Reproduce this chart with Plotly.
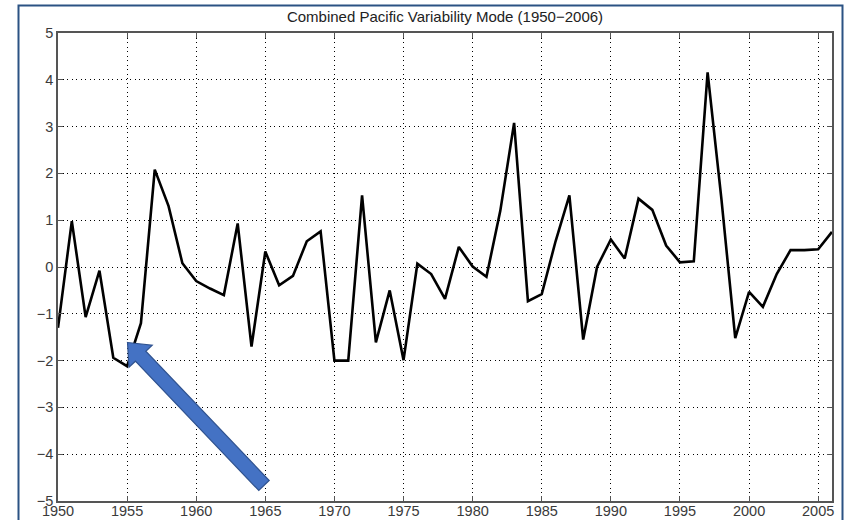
import plotly.graph_objects as go

years = list(range(1950, 2007))
cpvm = [-1.30, 0.98, -1.07, -0.08, -1.94, -2.12, -1.20, 2.08, 1.30, 0.08,
        -0.30, -0.46, -0.60, 0.93, -1.70, 0.33, -0.39, -0.19, 0.55, 0.76,
        -2.00, -2.00, 1.53, -1.61, -0.50, -1.99, 0.07, -0.15, -0.68, 0.43,
        0.01, -0.21, 1.20, 3.08, -0.73, -0.58, 0.55, 1.53, -1.55, 0.00,
        0.59, 0.18, 1.46, 1.22, 0.46, 0.10, 0.12, 4.16, 1.45, -1.52,
        -0.53, -0.85, -0.15, 0.36, 0.36, 0.38, 0.75]
x_ticks = [1950, 1955, 1960, 1965, 1970, 1975, 1980, 1985, 1990, 1995, 2000, 2005]
y_ticks = [5, 4, 3, 2, 1, 0, -1, -2, -3, -4, -5]
title_text = "Combined Pacific Variability Mode (1950\u22122006)"

W, H = 846, 520
ML, MR, MT, MB = 58, 14, 33, 19
PW, PH = W - ML - MR, H - MT - MB
XR = [1950, 2006]
YR = [-5, 5]


def px2data(px, py):
    return (XR[0] + (px - ML) / PW * (XR[1] - XR[0]),
            YR[1] - (py - MT) / PH * (YR[1] - YR[0]))


def px2paper(px, py):
    return ((px - ML) / PW, 1 - (py - MT) / PH)


# arrow geometry (pixel space)
tip = (127.5, 342.5)
tail = (264.0, 485.5)
dx, dy = tip[0] - tail[0], tip[1] - tail[1]
L = (dx * dx + dy * dy) ** 0.5
ux, uy = dx / L, dy / L
nx, ny = -uy, ux
sw, hw, hl = 7.2, 16.0, 19.0
bx, by = tip[0] - ux * hl, tip[1] - uy * hl
pts = [
    tip,
    (bx + nx * hw, by + ny * hw),
    (bx + nx * sw, by + ny * sw),
    (tail[0] + nx * sw, tail[1] + ny * sw),
    (tail[0] - nx * sw, tail[1] - ny * sw),
    (bx - nx * sw, by - ny * sw),
    (bx - nx * hw, by - ny * hw),
]
dpts = [px2data(*p) for p in pts]
path = "M " + " L ".join(f"{a:.4f},{b:.4f}" for a, b in dpts) + " Z"

fig = go.Figure()
fig.add_trace(go.Scatter(x=years, y=cpvm, mode="lines",
                         line=dict(color="black", width=2.6),
                         hoverinfo="skip", showlegend=False))

fx0, fy0 = px2paper(18.5, 5.5)
fx1, fy1 = px2paper(842.5, 530)
shapes = [
    dict(type="rect", xref="paper", yref="paper", x0=fx0, y0=fy1, x1=fx1, y1=fy0,
         line=dict(color="#2B5283", width=2), fillcolor="rgba(0,0,0,0)", layer="above"),
    dict(type="path", xref="x", yref="y", path=path, fillcolor="#4472C4",
         line=dict(color="#2F528F", width=1.2), layer="above"),
]

axis_common = dict(
    showline=True, linecolor="#555555", linewidth=1.5, mirror="ticks",
    ticks="inside", ticklen=5, tickcolor="#555555", tickwidth=1,
    showgrid=True, gridcolor="black", gridwidth=1, griddash="1px,3.5px",
    zeroline=False, automargin=False,
    tickfont=dict(family="Liberation Sans, Arial", size=14.5, color="#3a3a3a"),
)

fig.update_layout(
    template="none",
    width=W, height=H,
    margin=dict(l=ML, r=MR, t=MT, b=MB, pad=0, autoexpand=False),
    paper_bgcolor="white", plot_bgcolor="white",
    title=dict(text=title_text, x=0.5, xref="paper", y=1 - 17 / H, yref="container",
               yanchor="middle", xanchor="center",
               font=dict(family="Liberation Sans, Arial", size=15, color="#222222")),
    xaxis=dict(range=XR, tickvals=x_ticks, ticktext=[str(v) for v in x_ticks],
               ticklabelstandoff=-4, **axis_common),
    yaxis=dict(range=YR, tickvals=y_ticks,
               ticktext=[str(v).replace("-", "\u2212") for v in y_ticks], **axis_common),
    shapes=shapes,
    showlegend=False,
)

fig.write_html("out.html", config={"displayModeBar": False},
               post_script="document.body.style.margin='0px';document.body.style.overflow='hidden';")
